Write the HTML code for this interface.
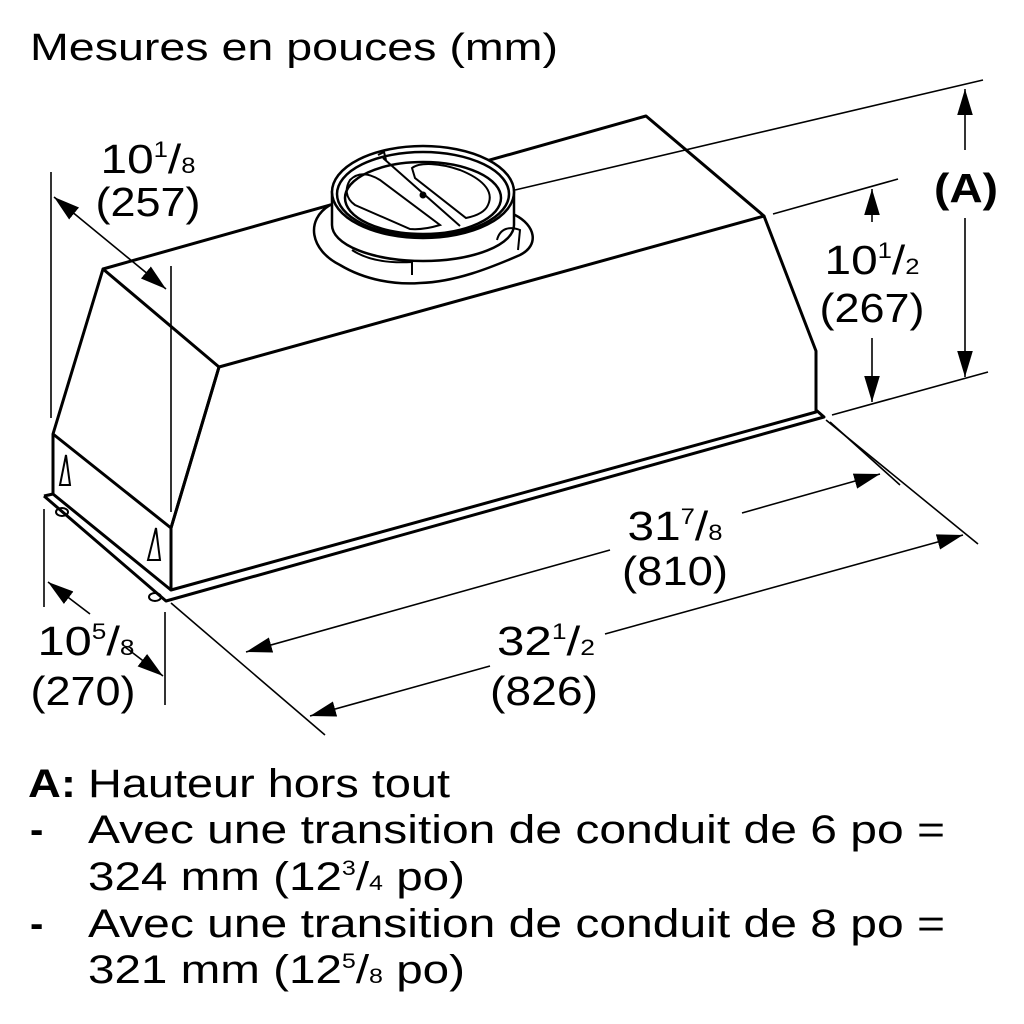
<!DOCTYPE html>
<html><head><meta charset="utf-8"><style>
html,body{margin:0;padding:0;background:#fff;}
svg{display:block;}
text{font-family:"Liberation Sans",Arial,sans-serif;fill:#000;}
</style></head><body>
<svg width="1024" height="1024" viewBox="0 0 1024 1024" xmlns="http://www.w3.org/2000/svg">
<defs>
<marker id="arb" viewBox="0 0 10 10" refX="10" refY="5" markerWidth="26" markerHeight="26" markerUnits="userSpaceOnUse" orient="auto-start-reverse">
<path d="M0,2 L10,5 L0,8 z" fill="#000"/></marker>
</defs>
<text x="30" y="60" font-size="38" textLength="528" lengthAdjust="spacingAndGlyphs">Mesures en pouces (mm)</text>

<!-- box -->
<g fill="none" stroke="#000" stroke-width="3" stroke-linejoin="round">
<path d="M103,269 L646,116 L764,216 L219,367 Z" fill="#fff"/>
<path d="M103,269 L53,434 L171,528 L219,367"/>
<path d="M219,367 L171,528 L171,590 L816,412 L816,351 L764,216"/>
<path d="M53,434 L53,494 L171,590"/>
<path d="M44,496 L166,601 L824,417 L816,410"/>
<path d="M44,496 L53,494"/>
</g>
<g fill="none" stroke="#000" stroke-width="2">
<path d="M60,485 L66,455 L70,485 Z"/>
<path d="M148,560 L156,528 L160,560 Z"/>
<ellipse cx="62" cy="512" rx="6" ry="4"/>
<ellipse cx="155" cy="597" rx="6" ry="4"/>
</g>

<!-- duct -->
<g fill="#fff" stroke="#000" stroke-width="2.5">
<path d="M330,205 C305,220 310,250 340,265 C365,280 395,285 420,283 C455,282 490,268 520,255 C540,245 535,225 515,215 Z"/>
<path d="M332,192 L332,225 A91,36 0 0 0 514,225 L514,192 Z"/>
<ellipse cx="423" cy="192" rx="91" ry="46"/>
<ellipse cx="423" cy="194" rx="86" ry="42"/>
<ellipse cx="423" cy="198" rx="78" ry="36" fill="none"/>
</g>
<g fill="none" stroke="#000" stroke-width="2">
<path d="M350,180 C360,170 372,175 380,180 L440,225 C430,228 420,230 410,229 L355,205 C345,198 345,188 350,180 Z"/>
<path d="M412,168 C420,162 440,163 460,170 C480,178 495,190 488,205 C485,212 476,216 466,218 L415,178 Z"/>
<path d="M383,158 L460,226"/>
<circle cx="423" cy="195" r="2.5" fill="#000"/>
<path d="M378,155 L384,152 L386,160"/>
<path d="M352,250 C370,262 395,263 412,262 L412,275"/>
<path d="M497,240 C500,228 510,226 520,230 L518,250"/>
</g>

<!-- extension & dimension lines -->
<g stroke="#000" stroke-width="1.6" fill="none">
<line x1="51" y1="172" x2="51" y2="418"/>
<line x1="171" y1="266" x2="171" y2="512"/>
<line x1="54" y1="197" x2="166" y2="289" marker-start="url(#arb)" marker-end="url(#arb)"/>

<line x1="44" y1="509" x2="44" y2="607"/>
<line x1="165" y1="612" x2="165" y2="705"/>
<line x1="48" y1="582" x2="90" y2="614" marker-start="url(#arb)"/>
<line x1="125" y1="647" x2="163" y2="676" marker-end="url(#arb)"/>

<line x1="171" y1="603" x2="325" y2="735"/>
<line x1="830" y1="422" x2="900" y2="485"/>
<line x1="826" y1="420" x2="978" y2="544"/>

<line x1="880" y1="474" x2="742" y2="513" marker-start="url(#arb)"/>
<line x1="610" y1="550" x2="246" y2="652" marker-end="url(#arb)"/>
<line x1="963" y1="535" x2="605" y2="634" marker-start="url(#arb)"/>
<line x1="490" y1="666" x2="310" y2="716" marker-end="url(#arb)"/>

<line x1="773" y1="214" x2="898" y2="179"/>
<line x1="832" y1="415" x2="988" y2="372"/>
<line x1="515" y1="190" x2="983" y2="80"/>
<line x1="872" y1="222" x2="872" y2="189" marker-end="url(#arb)"/>
<line x1="872" y1="338" x2="872" y2="402" marker-end="url(#arb)"/>
<line x1="965" y1="150" x2="965" y2="89" marker-end="url(#arb)"/>
<line x1="965" y1="218" x2="965" y2="377" marker-end="url(#arb)"/>
</g>

<!-- dimension labels -->
<g font-size="41" text-anchor="middle" lengthAdjust="spacingAndGlyphs">
<text x="148" y="173" textLength="95" lengthAdjust="spacingAndGlyphs">10<tspan font-size="22" dy="-16">1</tspan><tspan dy="16">/</tspan><tspan font-size="22">8</tspan></text>
<text x="148" y="216" textLength="105" lengthAdjust="spacingAndGlyphs">(257)</text>
<text x="872" y="274" textLength="95" lengthAdjust="spacingAndGlyphs">10<tspan font-size="22" dy="-16">1</tspan><tspan dy="16">/</tspan><tspan font-size="22">2</tspan></text>
<text x="872" y="322" textLength="105" lengthAdjust="spacingAndGlyphs">(267)</text>
<text x="966" y="202" font-weight="bold" textLength="64" lengthAdjust="spacingAndGlyphs">(A)</text>
<text x="675" y="540" textLength="95" lengthAdjust="spacingAndGlyphs">31<tspan font-size="22" dy="-16">7</tspan><tspan dy="16">/</tspan><tspan font-size="22">8</tspan></text>
<text x="675" y="585" textLength="106" lengthAdjust="spacingAndGlyphs">(810)</text>
<text x="546" y="655" textLength="98" lengthAdjust="spacingAndGlyphs">32<tspan font-size="22" dy="-16">1</tspan><tspan dy="16">/</tspan><tspan font-size="22">2</tspan></text>
<text x="544" y="705" textLength="108" lengthAdjust="spacingAndGlyphs">(826)</text>
<text x="86" y="655" textLength="97" lengthAdjust="spacingAndGlyphs">10<tspan font-size="22" dy="-16">5</tspan><tspan dy="16">/</tspan><tspan font-size="22">8</tspan></text>
<text x="83" y="705" textLength="105" lengthAdjust="spacingAndGlyphs">(270)</text>
</g>

<!-- notes -->
<g font-size="40">
<text x="28" y="797" font-weight="bold" textLength="48" lengthAdjust="spacingAndGlyphs">A:</text>
<text x="88" y="797" textLength="362" lengthAdjust="spacingAndGlyphs">Hauteur hors tout</text>
<text x="30" y="843" font-weight="bold">-</text>
<text x="88" y="843" textLength="857" lengthAdjust="spacingAndGlyphs">Avec une transition de conduit de 6 po =</text>
<text x="88" y="890" textLength="377" lengthAdjust="spacingAndGlyphs">324 mm (12<tspan font-size="21" dy="-15">3</tspan><tspan dy="15">/</tspan><tspan font-size="21">4</tspan> po)</text>
<text x="30" y="937" font-weight="bold">-</text>
<text x="88" y="937" textLength="857" lengthAdjust="spacingAndGlyphs">Avec une transition de conduit de 8 po =</text>
<text x="88" y="983" textLength="377" lengthAdjust="spacingAndGlyphs">321 mm (12<tspan font-size="21" dy="-15">5</tspan><tspan dy="15">/</tspan><tspan font-size="21">8</tspan> po)</text>
</g>
</svg>
</body></html>
